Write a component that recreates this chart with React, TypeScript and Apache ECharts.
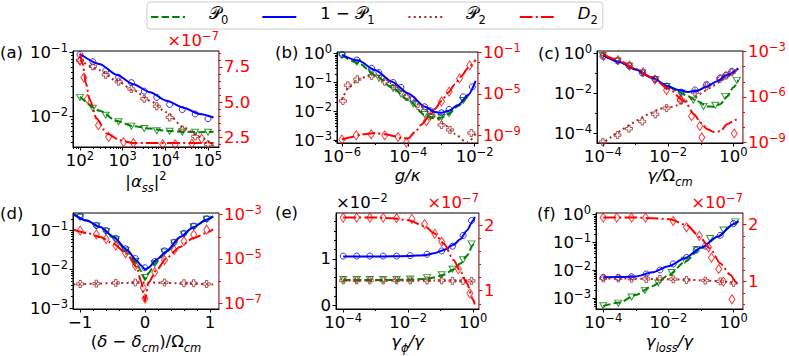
import React, { useEffect, useRef } from 'react';
import * as echarts from 'echarts';

// ---------------- (a) x = |alpha_ss|^2 ----------------
const aX = [100, 200, 400, 800, 1600, 3200, 6300, 12600, 25000, 50000, 100000];
const aP0 = [0.02, 0.0135, 0.0105, 0.0083, 0.0071, 0.0065, 0.006, 0.0059, 0.0057, 0.0057, 0.0057];
const aQ1 = [0.093, 0.072, 0.052, 0.041, 0.034, 0.025, 0.02, 0.0155, 0.0129, 0.011, 0.0093];
const aP2 = [0.076, 0.061, 0.045, 0.035, 0.027, 0.019, 0.0145, 0.0097, 0.0063, 0.0049, 0.0037];
const aDX = [100, 123, 148, 270, 470, 1050, 1780, 8700, 17000, 42000, 71000];
const aD2 = [7.93, 6.75, 5.23, 3.37, 2.54, 2.18, 2.11, 2.02, 2.02, 2.07, 2.42]; // x1e-7
const aLX = [100, 295, 724, 1778, 4365, 10715, 26300, 64600, 134900];
const aP0L = [0.0205, 0.0123, 0.0085, 0.0071, 0.0065, 0.006, 0.0058, 0.0057, 0.0058];
const aQ1L = [0.095, 0.066, 0.045, 0.032, 0.024, 0.0177, 0.0138, 0.011, 0.0097];
const aP2L = [0.076, 0.053, 0.036, 0.026, 0.0177, 0.0117, 0.0068, 0.0048, 0.0035];
const aDLX = [100, 115, 138, 170, 245, 427, 871, 1778, 134900];
const aD2L = [8.45, 7.74, 6.32, 5.14, 3.84, 2.78, 2.3, 2.11, 2.11];
const aXTicks = [1e2, 1e3, 1e4, 1e5];
const aYTicks = [1e-2, 1e-1];
const aRTicks = [2.5, 5.0, 7.5];

// ---------------- (b) x = g/kappa ----------------
const bX = [1e-6, 2.8e-6, 7.8e-6, 1.3e-5, 3.5e-5, 6.0e-5, 1.4e-4, 3.1e-4, 4.6e-4, 1.0e-3, 1.7e-3, 4.5e-3, 8.5e-3];
const bQ1 = [0.93, 0.6, 0.31, 0.22, 0.1, 0.068, 0.026, 0.0145, 0.0105, 0.009, 0.0118, 0.032, 0.071];
const bP0X = [1e-6, 2.8e-6, 7.8e-6, 1.3e-5, 3.5e-5, 6.0e-5, 1.4e-4, 3.1e-4, 4.6e-4, 1.0e-3, 1.7e-3, 4.5e-3];
const bP0 = [0.86, 0.5, 0.22, 0.14, 0.062, 0.04, 0.018, 0.0078, 0.0063, 0.0062, 0.0085, 0.024];
const bP2X = [1.07e-6, 1.5e-6, 2.9e-6, 7.8e-6, 1.95e-5, 4.4e-5, 8.7e-5, 2.3e-4, 4.9e-4, 1e-3, 1.8e-3, 7.9e-3];
const bP2 = [0.023, 0.08, 0.13, 0.17, 0.107, 0.063, 0.032, 0.0127, 0.0075, 0.0034, 0.0023, 0.0018];
const bDX = [1e-6, 2.7e-6, 7.6e-6, 1.95e-5, 4.9e-5, 8.7e-5, 3.5e-4, 1e-3, 1.7e-3, 3.5e-3, 7.1e-3];
const bD2 = [3.9e-10, 1.0e-9, 1.26e-9, 1.0e-9, 6.9e-10, 2.0e-10, 2.3e-8, 1.8e-6, 1.6e-5, 3.0e-4, 5.4e-3];
const bLX = [1e-6, 3.2e-6, 1e-5, 3.2e-5, 1e-4, 3.2e-4, 6.3e-4, 1e-3, 1.6e-3, 3.2e-3, 6.3e-3, 1.07e-2];
const bQ1L = [0.9, 0.56, 0.27, 0.107, 0.042, 0.0145, 0.0095, 0.009, 0.0103, 0.0166, 0.037, 0.115];
const bP0LX = [1e-6, 3.2e-6, 1e-5, 3.2e-5, 1e-4, 3.2e-4, 6.3e-4, 1e-3, 1.6e-3, 3.2e-3, 6.3e-3];
const bP0L = [0.86, 0.46, 0.18, 0.068, 0.025, 0.0075, 0.0057, 0.0062, 0.0081, 0.0155, 0.035];
const bP2LX = [1e-6, 1.6e-6, 3.2e-6, 6.3e-6, 1e-5, 2e-5, 4e-5, 1e-4, 2.5e-4, 6.3e-4, 1.26e-3, 2.5e-3, 5e-3, 6.3e-3, 1.07e-2];
const bP2L = [0.025, 0.068, 0.13, 0.17, 0.17, 0.12, 0.075, 0.032, 0.015, 0.0066, 0.0034, 0.0017, 0.00095, 0.00085, 0.0017];
const bDLX = [1e-6, 2e-6, 4e-6, 1e-5, 2e-5, 4e-5, 6.3e-5, 1e-4, 1.6e-4, 2.5e-4, 4e-4, 6.3e-4, 1e-3, 1.6e-3, 2.5e-3, 4e-3, 6.3e-3, 1.07e-2];
const bD2L = [3.9e-10, 6.9e-10, 1.26e-9, 1.66e-9, 1.26e-9, 7.9e-10, 5.2e-10, 5.0e-10, 2.1e-9, 1.1e-8, 5.5e-8, 3.4e-7, 2.1e-6, 1.3e-5, 7.9e-5, 5.0e-4, 3.1e-3, 1.9e-2];
const bXTicks = [1e-6, 1e-4, 1e-2];
const bXMinor = [1e-5, 1e-3];
const bYTicks = [1e-3, 1e-2, 1e-1, 1];
const bRTicks = [1e-9, 1e-5, 1e-1];
const bRMinor = [1e-8, 1e-7, 1e-6, 1e-4, 1e-3, 1e-2];

// ---------------- (c) x = gamma/Omega_cm ----------------
const cX = [1e-4, 2.8e-4, 6.3e-4, 1.6e-3, 4e-3, 8.9e-3, 2.5e-2, 6.6e-2, 0.15, 0.39, 0.59, 0.89];
const cQ1 = [0.74, 0.43, 0.24, 0.107, 0.052, 0.023, 0.0115, 0.0148, 0.028, 0.06, 0.083, 0.13];
const cP0X = [1e-4, 2.8e-4, 6.3e-4, 1.6e-3, 4e-3, 8.9e-3, 2.5e-2, 5.9e-2, 0.12, 0.275, 0.55, 1.26];
const cP0 = [0.8, 0.42, 0.24, 0.107, 0.05, 0.022, 0.0105, 0.0045, 0.0022, 0.0025, 0.007, 0.045];
const cP2 = [3.5e-5, 7.9e-5, 1.66e-4, 3.8e-4, 8.7e-4, 1.8e-3, 4.6e-3, 0.011, 0.023, 0.054, 0.078, 0.112];
const cDX = [1.05e-4, 2.9e-4, 6.6e-4, 1.7e-3, 3.9e-3, 8.9e-3, 2.3e-2, 5.2e-2, 9.3e-2, 0.107, 1.05];
const cD2 = [5e-4, 2.6e-4, 1.15e-4, 4.3e-5, 1.4e-5, 2.8e-6, 6.5e-7, 5.5e-8, 1.26e-8, 2.2e-9, 4e-9];
const cLX = [1e-4, 3.2e-4, 1e-3, 3.2e-3, 1e-2, 2e-2, 4e-2, 7.9e-2, 0.158, 0.316, 0.63, 1.41];
const cQ1L = [0.83, 0.38, 0.16, 0.06, 0.023, 0.0148, 0.0117, 0.0135, 0.023, 0.041, 0.083, 0.18];
const cP0LX = [1e-4, 3.2e-4, 1e-3, 3.2e-3, 1e-2, 2e-2, 4e-2, 7.9e-2, 0.158, 0.25, 0.4, 0.63, 1.0, 1.41];
const cP0L = [0.83, 0.38, 0.16, 0.06, 0.022, 0.012, 0.0072, 0.004, 0.0022, 0.0021, 0.0029, 0.0068, 0.02, 0.047];
const cP2LX = [8.9e-5, 1e-2, 1.41];
const cP2L = [2.8e-5, 2e-3, 0.17];
const cDLX = [1e-4, 3.2e-4, 1e-3, 3.2e-3, 1e-2, 3.2e-2, 6.3e-2, 0.1, 0.158, 0.25, 0.4, 0.63, 1.0, 1.41];
const cD2L = [6.5e-4, 2.4e-4, 6.9e-5, 1.9e-5, 3.6e-6, 5e-7, 7.1e-8, 2e-8, 7.6e-9, 5.1e-9, 5.6e-9, 1.6e-8, 2.6e-8, 4.3e-8];
const cXTicks = [1e-4, 1e-2, 1];
const cXMinor = [1e-3, 1e-1];
const cYTicks = [1e-4, 1e-2, 1];
const cYMinor = [1e-3, 1e-1];
const cRTicks = [1e-9, 1e-6, 1e-3];
const cRMinor = [1e-8, 1e-7, 1e-5, 1e-4];

// ---------------- (d) x = (delta - delta_cm)/Omega_cm ----------------
const dX = [-1.0, -0.75, -0.6, -0.45, -0.3, -0.15, 0.0, 0.15, 0.3, 0.45, 0.6, 0.75, 0.95];
const dQ1 = [0.23, 0.135, 0.1, 0.063, 0.034, 0.019, 0.011, 0.016, 0.03, 0.05, 0.085, 0.13, 0.2];
const dP0 = [0.22, 0.13, 0.095, 0.058, 0.031, 0.016, 0.0062, 0.014, 0.028, 0.048, 0.08, 0.125, 0.195];
const dP2X = [-1.0, -0.75, -0.45, -0.15, 0.3, 0.6, 0.75, 0.95];
const dP2 = [0.0042, 0.0043, 0.0045, 0.0046, 0.0046, 0.0044, 0.0044, 0.0042];
const dDX = [-1.0, -0.75, -0.6, -0.45, -0.3, -0.15, -0.03, 0.0, 0.15, 0.3, 0.45, 0.6, 0.75, 0.95];
const dD2 = [1.9e-4, 1.3e-4, 7.9e-5, 4e-5, 1.8e-5, 5e-6, 5e-7, 1.6e-7, 2.5e-6, 8.9e-6, 2.5e-5, 6.3e-5, 1.26e-4, 2.1e-4];
const dLX = [-1.1, -0.9, -0.69, -0.49, -0.28, -0.13, -0.06, 0.0, 0.05, 0.18, 0.33, 0.54, 0.74, 0.95, 1.05];
const dQ1L = [0.26, 0.18, 0.123, 0.07, 0.032, 0.017, 0.0125, 0.01, 0.011, 0.018, 0.029, 0.068, 0.12, 0.19, 0.23];
const dP0L = [0.26, 0.18, 0.12, 0.066, 0.03, 0.0145, 0.009, 0.0055, 0.008, 0.016, 0.028, 0.066, 0.12, 0.19, 0.23];
const dP2LX = [-1.1, -0.5, 0.0, 0.5, 1.05];
const dP2L = [0.0041, 0.0044, 0.0046, 0.0044, 0.0041];
const dD2L = [2.1e-4, 1.5e-4, 9.8e-5, 4.9e-5, 1.7e-5, 4.3e-6, 9.5e-7, 1.2e-7, 8.1e-7, 3.2e-6, 1.1e-5, 3.5e-5, 8.7e-5, 1.5e-4, 2.2e-4];
const dXTicks = [-1, 0, 1];
const dYTicks = [1e-3, 1e-2, 1e-1];
const dRTicks = [1e-7, 1e-5, 1e-3];
const dRMinor = [1e-6, 1e-4];

// ---------------- (e) x = gamma_phi/gamma ----------------
const eX = [1e-4, 2.6e-4, 6.6e-4, 1.7e-3, 4.4e-3, 1.15e-2, 3.8e-2, 0.107, 0.23, 0.49, 0.89];
const eQ1 = [1.06, 1.06, 1.06, 1.06, 1.06, 1.07, 1.1, 1.17, 1.27, 1.5, 1.82]; // x1e-2
const eP0 = [0.56, 0.56, 0.56, 0.56, 0.56, 0.57, 0.6, 0.66, 0.78, 0.98, 1.32];
const eP2 = [0.54, 0.54, 0.54, 0.54, 0.54, 0.54, 0.54, 0.54, 0.53, 0.53, 0.53];
const eDX = [1e-4, 2.6e-4, 6.6e-4, 1.7e-3, 4.4e-3, 1.3e-2, 3.2e-2, 6.6e-2, 0.107, 0.35, 0.79];
const eD2 = [2.12, 2.12, 2.12, 2.12, 2.11, 2.1, 2.02, 1.87, 1.75, 1.33, 0.96]; // x1e-7
const eLX = [1e-4, 1e-3, 3.2e-3, 1e-2, 3.2e-2, 6.3e-2, 0.126, 0.25, 0.4, 0.63, 1.0, 1.12];
const eQ1L = [1.05, 1.05, 1.055, 1.06, 1.08, 1.12, 1.19, 1.3, 1.42, 1.6, 1.82, 1.9];
const eP0L = [0.55, 0.55, 0.55, 0.555, 0.57, 0.6, 0.66, 0.78, 0.9, 1.06, 1.3, 1.38];
const eP2L = [0.54, 0.54, 0.54, 0.54, 0.54, 0.54, 0.54, 0.535, 0.53, 0.53, 0.52, 0.52];
const eD2L = [2.12, 2.12, 2.11, 2.08, 1.99, 1.88, 1.72, 1.47, 1.3, 1.12, 0.86, 0.79];
const eXTicks = [1e-4, 1e-2, 1];
const eXMinor = [1e-3, 1e-1];
const eYTicks = [0, 1];
const eRTicks = [1, 2];

// ---------------- (f) x = gamma_loss/gamma ----------------
const fX = [1e-4, 2.9e-4, 7.4e-4, 2.1e-3, 5.5e-3, 1.4e-2, 3.6e-2, 7.1e-2, 0.135, 0.39, 1.0];
const fQ1 = [0.0056, 0.0056, 0.0059, 0.0074, 0.0103, 0.017, 0.029, 0.053, 0.074, 0.18, 0.48];
const fP0X = [1e-4, 2.9e-4, 7.4e-4, 1.9e-3, 4.9e-3, 1.26e-2, 3.2e-2, 7.4e-2, 0.19, 0.49, 1.12];
const fP0 = [0.00053, 0.00066, 0.0011, 0.0019, 0.0035, 0.0083, 0.023, 0.056, 0.14, 0.28, 0.55];
const fP2X = [1e-4, 2.9e-4, 7.4e-4, 2.1e-3, 5.5e-3, 1.4e-2, 3.6e-2, 0.135, 0.39, 1.0];
const fP2 = [0.0051, 0.0051, 0.005, 0.0049, 0.0049, 0.0048, 0.0045, 0.0043, 0.004, 0.0035];
const fDX = [1e-4, 2.6e-4, 7.4e-4, 2e-3, 1.4e-2, 3.6e-2, 8.9e-2, 0.17, 0.21, 0.35, 0.49, 0.89];
const fD2 = [2.12, 2.12, 2.12, 2.12, 2.06, 1.95, 1.8, 1.6, 1.42, 1.22, 1.0, 0.69]; // x1e-7
const fLX = [1e-4, 3.2e-4, 1e-3, 3.2e-3, 1e-2, 3.2e-2, 0.1, 0.32, 1.0, 1.41];
const fQ1L = [0.0056, 0.0057, 0.006, 0.0085, 0.014, 0.027, 0.065, 0.16, 0.46, 0.59];
const fP0L = [0.00052, 0.0007, 0.0013, 0.0027, 0.0065, 0.02, 0.063, 0.16, 0.44, 0.57];
const fP2L = [0.0051, 0.0051, 0.005, 0.0049, 0.0048, 0.0046, 0.0044, 0.0041, 0.0036, 0.0034];
const fDLX = [1e-4, 1e-3, 3.2e-3, 1.1e-2, 3.6e-2, 9.3e-2, 0.19, 0.39, 0.79, 1.26];
const fD2L = [2.12, 2.12, 2.11, 2.09, 1.99, 1.78, 1.58, 1.32, 1.12, 0.94];
const fXTicks = [1e-4, 1e-2, 1];
const fXMinor = [1e-3, 1e-1];
const fYTicks = [1e-3, 1e-2, 1e-1, 1];
const fRTicks = [1, 2];

const LEGEND_NAMES = ['P0', '1-P1', 'P2', 'D2'];
const SUB_MANTISSAS = [2, 3, 4, 5, 6, 7, 8, 9];

// ---------------- styling ----------------
const FONT = 'DejaVu Sans';
const FS = 16.5;
const SUP = 11.5;
const BLACK = '#000000';
const RED = '#ff0000';
const RED_SPINE = '#f08080';
const COL: any = { p0: '#008000', q1: '#0000ff', p2: '#a52a2a', d2: '#ff0000' };
const DASH: any = { p0: [7.4, 3.2], q1: 'solid', p2: [2, 3.3], d2: [12.8, 3.2, 2, 3.2] };
const NAME: any = { p0: 'P0', q1: '1-P1', p2: 'P2', d2: 'D2' };
const TRI = 'path://M0,0L10,0L5,8.66Z';
const PLUS = 'path://M1,0L2,0L2,1L3,1L3,2L2,2L2,3L1,3L1,2L0,2L0,1L1,1Z';
const SYM: any = { p0: [TRI, [7, 6]], q1: ['circle', 6], p2: [PLUS, 7], d2: ['diamond', [6, 9]] };

function subTicks(min: number, max: number) {
  const out: number[] = [];
  for (let k = Math.floor(Math.log10(min)); k <= Math.ceil(Math.log10(max)); k++) {
    for (const m of SUB_MANTISSAS) {
      const v = m * Math.pow(10, k);
      if (v > min && v < max) out.push(v);
    }
  }
  return out;
}

function rich(color: string) {
  return {
    b: { color, fontSize: FS, fontFamily: FONT, lineHeight: 17, verticalAlign: 'bottom' },
    e: { color, fontSize: SUP, fontFamily: FONT, lineHeight: 12, verticalAlign: 'bottom', padding: [0, 0, 7, 0] },
    m: { color, fontSize: FS, fontFamily: FONT, fontStyle: 'italic', lineHeight: 18, verticalAlign: 'bottom', padding: [0, 0, 4, 0] },
    r: { color, fontSize: FS, fontFamily: FONT, lineHeight: 18, verticalAlign: 'bottom', padding: [0, 0, 4, 0] },
    c: { color, fontSize: FS, fontFamily: FONT, lineHeight: 18, verticalAlign: 'bottom', padding: [0, 0, 4, 0] },
    s: { color, fontSize: SUP, fontFamily: FONT, fontStyle: 'italic', lineHeight: 13, verticalAlign: 'bottom' },
    n: { color, fontSize: SUP, fontFamily: FONT, lineHeight: 13, verticalAlign: 'bottom' },
    p: { color, fontSize: SUP, fontFamily: FONT, lineHeight: 13, verticalAlign: 'bottom', padding: [0, 0, 12, 0] },
  };
}

const supNum = (n: number) => (n < 0 ? '−' + -n : String(n));
const logLabel = (v: number) => `{b|10}{e|${supNum(Math.round(Math.log10(v)))}}`;
const linLabel = (digits: number) => (v: number) => (v < 0 ? '−' : '') + Math.abs(v).toFixed(digits);

function makeAxis(side: string, gridIndex: number, cfg: any) {
  const color = side === 'right' ? RED : BLACK;
  const a: any = {
    type: cfg.log ? 'log' : 'value',
    gridIndex,
    position: side,
    min: cfg.min,
    max: cfg.max,
    axisLine: { show: true, onZero: false, lineStyle: { color: side === 'right' ? RED_SPINE : BLACK, width: 1 } },
    axisTick: { show: true, length: 3.5, lineStyle: { color, width: 1 }, customValues: cfg.ticks },
    axisLabel: {
      show: true, color, fontSize: FS, fontFamily: FONT, margin: 5,
      customValues: cfg.ticks,
      formatter: cfg.log ? logLabel : linLabel(cfg.digits || 0),
      rich: rich(color),
    },
    splitLine: { show: false },
  };
  if (cfg.log) a.logBase = 10;
  else {
    a.minInterval = cfg.step;
    a.maxInterval = cfg.step;
    a.minorTick = { show: true, length: 2, splitNumber: 5, lineStyle: { color, width: 1 } };
  }
  if (cfg.name) {
    a.name = cfg.name;
    if (side === 'bottom') {
      a.nameLocation = 'middle';
      a.nameGap = cfg.nameGap;
      a.nameTextStyle = { color, fontSize: FS, fontFamily: FONT, rich: rich(color) };
    } else {
      a.nameLocation = 'end';
      a.nameGap = 2;
      a.nameTextStyle = { color, fontSize: FS, fontFamily: FONT, align: side === 'right' ? 'right' : 'left', verticalAlign: 'bottom', rich: rich(color) };
    }
  }
  return a;
}

// an extra, label-less log axis carrying only the short (minor) ticks
function minorAxis(side: string, gridIndex: number, cfg: any) {
  const color = side === 'right' ? RED : BLACK;
  const values = (cfg.minor || subTicks(cfg.min, cfg.max)).filter((v: number) => v > cfg.min && v < cfg.max);
  return {
    type: 'log', logBase: 10, gridIndex, position: side, min: cfg.min, max: cfg.max,
    axisLine: { show: false, onZero: false },
    axisLabel: { show: false },
    splitLine: { show: false },
    axisTick: { show: true, length: 2, lineStyle: { color, width: 1 }, customValues: values },
  };
}

function pairs(xs: number[], ys: number[]) {
  return xs.map((x, i) => [x, ys[i]]);
}

function panelSeries(i: number, L: any, M: any) {
  const out: any[] = [];
  const line = (k: string, yIdx: number) => ({
    type: 'line', name: NAME[k], xAxisIndex: i, yAxisIndex: yIdx, data: pairs(L[k][0], L[k][1]),
    symbol: 'none', smooth: 0.25, smoothMonotone: 'x', silent: true,
    lineStyle: { color: COL[k], width: 2, type: DASH[k], cap: 'butt' }, itemStyle: { color: COL[k] },
  });
  const scat = (k: string, yIdx: number) => ({
    type: 'scatter', name: NAME[k], xAxisIndex: i, yAxisIndex: yIdx, data: pairs(M[k][0], M[k][1]),
    symbol: SYM[k][0], symbolSize: SYM[k][1], silent: true,
    itemStyle: { color: 'rgba(0,0,0,0)', borderColor: COL[k], borderWidth: 1 },
  });
  for (const k of ['p0', 'q1', 'p2']) out.push(line(k, 2 * i));
  for (const k of ['p0', 'q1', 'p2']) out.push(scat(k, 2 * i));
  out.push(line('d2', 2 * i + 1));
  out.push(scat('d2', 2 * i + 1));
  return out;
}

const grids = [
  { left: 73, top: 51, width: 146, height: 96 },
  { left: 337, top: 52, width: 141, height: 91 },
  { left: 597, top: 51, width: 146, height: 92 },
  { left: 73, top: 213, width: 146, height: 96 },
  { left: 336, top: 213, width: 143, height: 96 },
  { left: 596, top: 213, width: 147, height: 96 },
];

const panelLabels: [string, number, number][] = [
  ['(a)', 0, 44], ['(b)', 275, 44], ['(c)', 538, 45], ['(d)', 0, 205], ['(e)', 275, 204], ['(f)', 537, 205],
];

function buildOption() {
  const X = [
    { log: true, min: 68.5, max: 181000, ticks: aXTicks, name: '{r||}{m|α}{s|ss}{r||}{p|2}', nameGap: 27 },
    { log: true, min: 7.08e-7, max: 0.0126, ticks: bXTicks, minor: bXMinor, name: '{m|g/κ}', nameGap: 27 },
    { log: true, min: 6.6e-5, max: 1.95, ticks: cXTicks, minor: cXMinor, name: '{m|γ/}{r|Ω}{s|cm}', nameGap: 27 },
    { log: false, min: -1.11, max: 1.14, step: 1, ticks: dXTicks, name: '{r|(}{m|δ}{r| − }{m|δ}{s|cm}{r|)/Ω}{s|cm}', nameGap: 27 },
    { log: true, min: 6.0e-5, max: 1.51, ticks: eXTicks, minor: eXMinor, name: '{m|γ}{s|ϕ}{m|/γ}', nameGap: 27 },
    { log: true, min: 6.0e-5, max: 1.95, ticks: fXTicks, minor: fXMinor, name: '{m|γ}{s|loss}{m|/γ}', nameGap: 27 },
  ];
  const YL = [
    { log: true, min: 0.00335, max: 0.106, ticks: aYTicks },
    { log: true, min: 8.1e-4, max: 1.135, ticks: bYTicks },
    { log: true, min: 3.16e-5, max: 1.35, ticks: cYTicks, minor: cYMinor },
    { log: true, min: 9.55e-4, max: 0.282, ticks: dYTicks },
    { log: false, min: -0.07, max: 1.98, step: 1, ticks: eYTicks, name: '{b|×10}{e|−2}' },
    { log: true, min: 4.07e-4, max: 1.15, ticks: fYTicks },
  ];
  const YR = [
    { log: false, min: 1.83, max: 8.63, step: 2.5, digits: 1, ticks: aRTicks, name: '{b|×10}{e|−7}' },
    { log: true, min: 1.82e-10, max: 0.105, ticks: bRTicks, minor: bRMinor },
    { log: true, min: 9.5e-10, max: 1.05e-3, ticks: cRTicks, minor: cRMinor },
    { log: true, min: 5.4e-8, max: 1.2e-3, ticks: dRTicks, minor: dRMinor },
    { log: false, min: 0.72, max: 2.19, step: 1, ticks: eRTicks, name: '{b|×10}{e|−7}' },
    { log: false, min: 0.52, max: 2.2, step: 1, ticks: fRTicks, name: '{b|×10}{e|−7}' },
  ];

  const xAxis: any[] = X.map((c, i) => makeAxis('bottom', i, c));
  const yAxis: any[] = [];
  for (let i = 0; i < 6; i++) {
    yAxis.push(makeAxis('left', i, YL[i]));
    yAxis.push(makeAxis('right', i, YR[i]));
  }
  X.forEach((c, i) => { if (c.log) xAxis.push(minorAxis('bottom', i, c)); });
  YL.forEach((c, i) => { if (c.log) yAxis.push(minorAxis('left', i, c)); });
  YR.forEach((c, i) => { if (c.log) yAxis.push(minorAxis('right', i, c)); });

  const series = [
    ...panelSeries(0,
      { p0: [aLX, aP0L], q1: [aLX, aQ1L], p2: [aLX, aP2L], d2: [aDLX, aD2L] },
      { p0: [aX, aP0], q1: [aX, aQ1], p2: [aX, aP2], d2: [aDX, aD2] }),
    ...panelSeries(1,
      { p0: [bP0LX, bP0L], q1: [bLX, bQ1L], p2: [bP2LX, bP2L], d2: [bDLX, bD2L] },
      { p0: [bP0X, bP0], q1: [bX, bQ1], p2: [bP2X, bP2], d2: [bDX, bD2] }),
    ...panelSeries(2,
      { p0: [cP0LX, cP0L], q1: [cLX, cQ1L], p2: [cP2LX, cP2L], d2: [cDLX, cD2L] },
      { p0: [cP0X, cP0], q1: [cX, cQ1], p2: [cX, cP2], d2: [cDX, cD2] }),
    ...panelSeries(3,
      { p0: [dLX, dP0L], q1: [dLX, dQ1L], p2: [dP2LX, dP2L], d2: [dLX, dD2L] },
      { p0: [dX, dP0], q1: [dX, dQ1], p2: [dP2X, dP2], d2: [dDX, dD2] }),
    ...panelSeries(4,
      { p0: [eLX, eP0L], q1: [eLX, eQ1L], p2: [eLX, eP2L], d2: [eLX, eD2L] },
      { p0: [eX, eP0], q1: [eX, eQ1], p2: [eX, eP2], d2: [eDX, eD2] }),
    ...panelSeries(5,
      { p0: [fLX, fP0L], q1: [fLX, fQ1L], p2: [fLX, fP2L], d2: [fDLX, fD2L] },
      { p0: [fP0X, fP0], q1: [fX, fQ1], p2: [fP2X, fP2], d2: [fDX, fD2] }),
  ];

  const legendText: any = {
    P0: '{c|𝒫}{n|0}',
    '1-P1': '{r|1 − }{c|𝒫}{n|1}',
    P2: '{c|𝒫}{n|2}',
    D2: '{m|D}{n|2}',
  };

  return {
    animation: false,
    backgroundColor: '#ffffff',
    textStyle: { fontFamily: FONT },
    grid: grids.map((g) => ({ ...g, show: true, borderColor: BLACK, borderWidth: 1, backgroundColor: 'rgba(0,0,0,0)', containLabel: false, outerBoundsMode: 'none' })),
    title: panelLabels.map(([t, left, top]) => ({
      text: t, left, top, padding: 0,
      textStyle: { fontSize: FS, fontWeight: 'normal', fontFamily: FONT, color: BLACK },
    })),
    legend: {
      show: true, orient: 'horizontal', left: 147, top: 2,
      itemWidth: 34, itemHeight: 12, itemGap: 33,
      padding: [3, 5, 3, 3],
      borderColor: '#cccccc', borderWidth: 1, borderRadius: 3, backgroundColor: '#ffffff',
      data: LEGEND_NAMES,
      formatter: (n: string) => legendText[n],
      itemStyle: { opacity: 0 },
      textStyle: { color: BLACK, fontSize: FS, fontFamily: FONT, padding: [0, 0, 0, 19], rich: rich(BLACK) },
      selectedMode: false,
    },
    xAxis,
    yAxis,
    series,
  };
}

export default function App() {
  const ref = useRef<HTMLDivElement>(null);
  useEffect(() => {
    if (!ref.current) return;
    const chart = echarts.init(ref.current, null, { renderer: 'svg', width: 789, height: 356 });
    chart.setOption(buildOption() as any);
    return () => chart.dispose();
  }, []);
  return <div ref={ref} style={{ position: 'absolute', left: 0, top: 0, width: 789, height: 356, background: '#fff' }} />;
}
